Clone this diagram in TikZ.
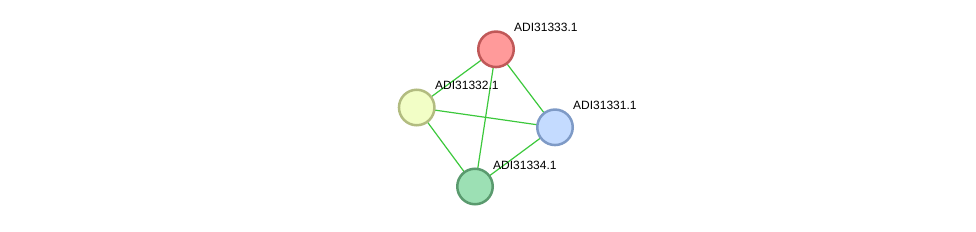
\documentclass[tikz,border=0pt]{standalone}
\usepackage{fontspec}
\setmainfont{Liberation Sans}
\definecolor{edgeg}{HTML}{3CC83C}
\definecolor{rfill}{HTML}{FF9A9A}
\definecolor{rdraw}{HTML}{C05858}
\definecolor{yfill}{HTML}{F2FEC6}
\definecolor{ydraw}{HTML}{B2BC80}
\definecolor{bfill}{HTML}{C4DBFF}
\definecolor{bdraw}{HTML}{7E9AC6}
\definecolor{gfill}{HTML}{9CE0B4}
\definecolor{gdraw}{HTML}{5A9A6E}
\tikzset{
  prot/.style={circle, minimum size=35.5pt, inner sep=0pt, line width=2.5pt},
  lbl/.style={anchor=base west, inner sep=0pt, font=\fontsize{12}{14}\selectfont},
  edge/.style={draw=edgeg, line width=1.2pt}
}
\begin{document}
\begin{tikzpicture}[x=1pt,y=-1pt]
\useasboundingbox (0,0) rectangle (976,232);
\coordinate (c333) at (496,49.3);
\coordinate (c332) at (416.7,107.5);
\coordinate (c331) at (555,127.3);
\coordinate (c334) at (475,186.5);
\draw[edge] (c333) -- (c332);
\draw[edge] (c333) -- (c331);
\draw[edge] (c333) -- (c334);
\draw[edge] (c332) -- (c331);
\draw[edge] (c332) -- (c334);
\draw[edge] (c331) -- (c334);
\node[prot, fill=rfill, draw=rdraw] (n333) at (c333) {};
\node[prot, fill=yfill, draw=ydraw] (n332) at (c332) {};
\node[prot, fill=bfill, draw=bdraw] (n331) at (c331) {};
\node[prot, fill=gfill, draw=gdraw] (n334) at (c334) {};
\node[lbl] (l333) at (514,31.7) {ADI31333.1};
\node[lbl] (l332) at (435,90) {ADI31332.1};
\node[lbl] (l331) at (573,110) {ADI31331.1};
\node[lbl] (l334) at (493,169) {ADI31334.1};
\end{tikzpicture}
\end{document}
